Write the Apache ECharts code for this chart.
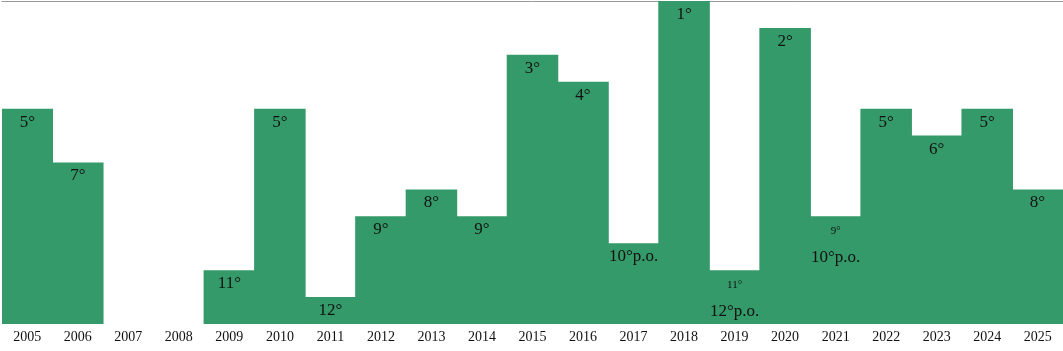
<!DOCTYPE html>
<html>
<head>
<meta charset="utf-8">
<script src="https://cdn.jsdelivr.net/npm/echarts@6/dist/echarts.min.js"></script>
<style>
  html, body { margin: 0; padding: 0; background: #fff; }
  #chart { width: 1063px; height: 351px; }
</style>
</head>
<body>
<div id="chart"></div>
<script>
const years = ['2005', '2006', '2007', '2008', '2009', '2010', '2011', '2012', '2013', '2014', '2015',
  '2016', '2017', '2018', '2019', '2020', '2021', '2022', '2023', '2024', '2025']
// bar height in steps (12 = 1st place, 1 = 12th place)
const heights = [8, 6, null, null, 2, 8, 1, 4, 5, 4, 10, 9, 3, 12, 2, 11, 4, 8, 7, 8, 5]
// small note above the main label (empty if none)
const notes = ['', '', '', '', '', '', '', '', '', '', '', '', '', '', '11°', '', '9°', '', '', '', '']
const labels = ['5°', '7°', '', '', '11°', '5°', '12°', '9°', '8°', '9°', '3°', '4°', '10°p.o.', '1°',
  '12°p.o.', '2°', '10°p.o.', '5°', '6°', '5°', '8°']

const chart = echarts.init(document.getElementById('chart'))

const font = '"Liberation Serif", "DejaVu Serif", serif'
const green = '#349a69'

const option = {
  animation: false,
  grid: { left: 2, right: 0, top: 1, bottom: 27 },
  xAxis: [
    {
      type: 'category',
      data: years,
      axisLine: { show: false },
      axisTick: { show: false },
      axisLabel: { color: '#111', fontFamily: font, fontSize: 14, margin: 6 }
    },
    {
      type: 'category',
      position: 'top',
      data: years,
      axisLine: { show: true, lineStyle: { color: '#999', width: 1 } },
      axisTick: { show: false },
      axisLabel: { show: false }
    }
  ],
  yAxis: {
    type: 'value',
    min: 0,
    max: 12,
    show: false
  },
  series: [{
    type: 'bar',
    data: heights,
    barWidth: '102%',
    barCategoryGap: 0,
    itemStyle: { color: green },
    label: {
      show: true,
      position: 'insideTop',
      distance: 5,
      fontFamily: font,
      color: '#111',
      formatter: p => {
        const i = p.dataIndex
        if (notes[i]) return '{s|' + notes[i] + '}\n{c|' + labels[i] + '}'
        return '{b|' + labels[i] + '}'
      },
      rich: {
        s: { fontFamily: font, fontSize: 11, color: '#111', lineHeight: 20 },
        b: { fontFamily: font, fontSize: 17, color: '#111', lineHeight: 17 },
        c: { fontFamily: font, fontSize: 17, color: '#111', lineHeight: 32 }
      }
    }
  }]
}

chart.setOption(option)
</script>
</body>
</html>
